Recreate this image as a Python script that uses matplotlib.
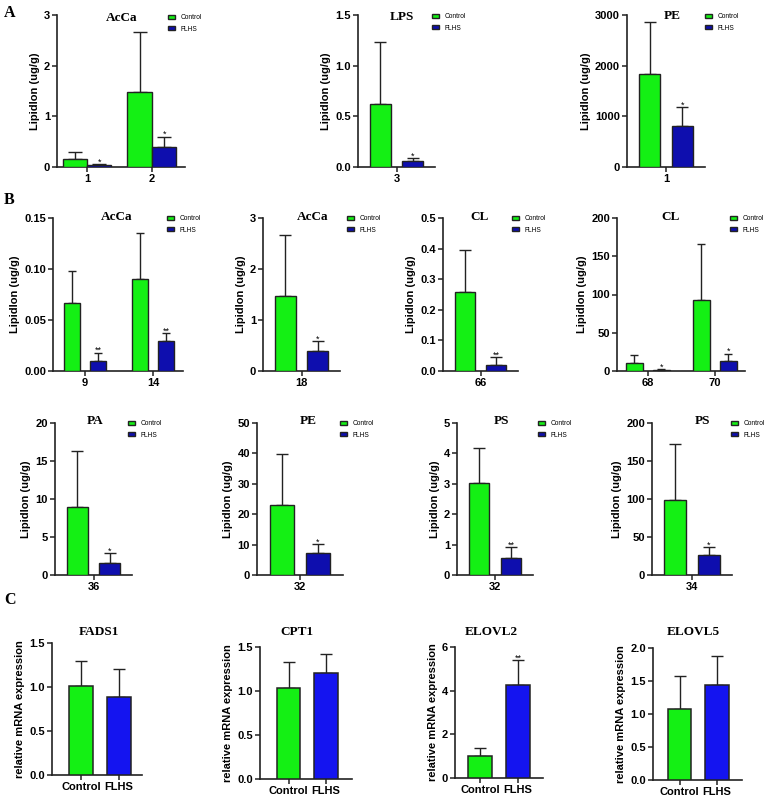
import matplotlib
matplotlib.use('Agg')
import matplotlib.pyplot as plt
import numpy as np

plt.rcParams['font.family'] = ['Liberation Sans', 'DejaVu Sans']
plt.rcParams['font.weight'] = 'bold'
plt.rcParams['axes.labelweight'] = 'bold'

W, H = 770, 802
GREEN = '#14F014'
NAVY = '#0E0EAE'
BLUE = '#1414F0'
EDGE = '#222222'

# ---------- data ----------
# A
a1_cats = ['1', '2']
a1_ctrl = [0.16, 1.49]
a1_ctrl_sd = [0.14, 1.17]
a1_flhs = [0.04, 0.40]
a1_flhs_sd = [0.025, 0.20]
a1_sig = ['*', '*']
a1_yticks = ['0', '1', '2', '3']

a2_cats = ['3']
a2_ctrl = [0.62]
a2_ctrl_sd = [0.61]
a2_flhs = [0.056]
a2_flhs_sd = [0.033]
a2_sig = ['*']
a2_yticks = ['0.0', '0.5', '1.0', '1.5']

a3_cats = ['1']
a3_ctrl = [1838]
a3_ctrl_sd = [1016]
a3_flhs = [815]
a3_flhs_sd = [360]
a3_sig = ['*']
a3_yticks = ['0', '1000', '2000', '3000']

# B, first row
b1_cats = ['9', '14']
b1_ctrl = [0.0665, 0.090]
b1_ctrl_sd = [0.032, 0.045]
b1_flhs = [0.010, 0.029]
b1_flhs_sd = [0.008, 0.0085]
b1_sig = ['**', '**']
b1_yticks = ['0.00', '0.05', '0.10', '0.15']

b2_cats = ['18']
b2_ctrl = [1.48]
b2_ctrl_sd = [1.18]
b2_flhs = [0.39]
b2_flhs_sd = [0.19]
b2_sig = ['*']
b2_yticks = ['0', '1', '2', '3']

b3_cats = ['66']
b3_ctrl = [0.257]
b3_ctrl_sd = [0.137]
b3_flhs = [0.019]
b3_flhs_sd = [0.026]
b3_sig = ['**']
b3_yticks = ['0.0', '0.1', '0.2', '0.3', '0.4', '0.5']

b4_cats = ['68', '70']
b4_ctrl = [10.9, 93]
b4_ctrl_sd = [9.6, 72.5]
b4_flhs = [1.7, 13.5]
b4_flhs_sd = [1.3, 9.2]
b4_sig = ['*', '*']
b4_yticks = ['0', '50', '100', '150', '200']

# B, second row
b5_cats = ['36']
b5_ctrl = [8.93]
b5_ctrl_sd = [7.35]
b5_flhs = [1.53]
b5_flhs_sd = [1.4]
b5_sig = ['*']
b5_yticks = ['0', '5', '10', '15', '20']

b6_cats = ['32']
b6_ctrl = [23.1]
b6_ctrl_sd = [16.8]
b6_flhs = [7.2]
b6_flhs_sd = [3.0]
b6_sig = ['*']
b6_yticks = ['0', '10', '20', '30', '40', '50']

b7_cats = ['32']
b7_ctrl = [3.04]
b7_ctrl_sd = [1.14]
b7_flhs = [0.56]
b7_flhs_sd = [0.37]
b7_sig = ['**']
b7_yticks = ['0', '1', '2', '3', '4', '5']

b8_cats = ['34']
b8_ctrl = [98.5]
b8_ctrl_sd = [73.5]
b8_flhs = [25.8]
b8_flhs_sd = [11.4]
b8_sig = ['*']
b8_yticks = ['0', '50', '100', '150', '200']

# C (mRNA)
groups = ['Control', 'FLHS']
c1_vals = [1.01, 0.89]
c1_sd = [0.29, 0.32]
c1_sig = ['', '']
c1_yticks = ['0.0', '0.5', '1.0', '1.5']

c2_vals = [1.03, 1.20]
c2_sd = [0.30, 0.22]
c2_sig = ['', '']
c2_yticks = ['0.0', '0.5', '1.0', '1.5']

c3_vals = [0.99, 4.27]
c3_sd = [0.38, 1.12]
c3_sig = ['', '**']
c3_yticks = ['0', '2', '4', '6']

c4_vals = [1.08, 1.44]
c4_sd = [0.50, 0.44]
c4_sig = ['', '']
c4_yticks = ['0.0', '0.5', '1.0', '1.5', '2.0']

fig = plt.figure(figsize=(7.7, 8.02), dpi=100)


def px_rect(l, t, r, b):
    return [l / W, 1 - b / H, (r - l) / W, (b - t) / H]


def base_axes(rect, yticks):
    ax = fig.add_axes(px_rect(*rect))
    for s in ['top', 'right']:
        ax.spines[s].set_visible(False)
    for s in ['left', 'bottom']:
        ax.spines[s].set_linewidth(1.2)
        ax.spines[s].set_color(EDGE)
    yt = [float(t) for t in yticks]
    ax.set_yticks(yt)
    ax.set_yticklabels(yticks)
    ax.set_ylim(0, yt[-1])
    ax.tick_params(direction='out', length=3.5, width=1.1, labelsize=8, pad=1.5, color=EDGE)
    return ax


def put_stars(ax, xs, ys, errs, sig):
    for xi, yi, e, s in zip(xs, ys, errs, sig):
        if s:
            ax.annotate(s, (xi, yi + e), xytext=(0, -0.4), textcoords='offset points',
                        ha='center', va='baseline', fontsize=6.5, fontweight='normal')


def fig_title(text, x, y):
    fig.text(x / W, 1 - y / H, text, family='Liberation Serif', weight='bold',
             fontsize=9.5, ha='center', va='center')


def lipid_panel(rect, title, tpos, cats, ctrl, ctrl_sd, flhs, flhs_sd, sig, yticks,
                lpos, width, off, xlim, cap):
    ax = base_axes(rect, yticks)
    x = np.arange(len(cats))
    z = np.zeros(len(cats))
    ax.bar(x - off, ctrl, width, color=GREEN, edgecolor=EDGE, linewidth=1, label='Control', zorder=3)
    ax.bar(x + off, flhs, width, color=NAVY, edgecolor=EDGE, linewidth=1, label='FLHS', zorder=3)
    ax.errorbar(x - off, ctrl, yerr=[z, ctrl_sd], fmt='none', ecolor=EDGE, elinewidth=1,
                capsize=cap, capthick=1, zorder=2)
    ax.errorbar(x + off, flhs, yerr=[z, flhs_sd], fmt='none', ecolor=EDGE, elinewidth=1,
                capsize=cap, capthick=1, zorder=2)
    put_stars(ax, x + off, flhs, flhs_sd, sig)
    ax.set_xticks(x)
    ax.set_xticklabels(cats)
    ax.set_xlim(*xlim)
    ax.set_ylabel('Lipidlon (ug/g)', fontsize=8, labelpad=3)
    fig_title(title, *tpos)
    ax.legend(loc='upper left', bbox_to_anchor=(lpos[0] / W, 1 - (lpos[1] - 4) / H),
              bbox_transform=fig.transFigure, frameon=False, borderpad=0, borderaxespad=0,
              handlelength=1.1, handleheight=0.6, handletextpad=0.8, labelspacing=0.7,
              prop={'size': 4.8, 'weight': 'normal'})
    return ax


def mrna_panel(rect, title, tpos, vals, sd, sig, yticks, xlim):
    ax = base_axes(rect, yticks)
    x = np.arange(len(groups))
    ax.bar(x, vals, 0.63, color=[GREEN, BLUE], edgecolor=EDGE, linewidth=1.1, zorder=3)
    ax.errorbar(x, vals, yerr=[np.zeros(len(x)), sd], fmt='none', ecolor=EDGE, elinewidth=1,
                capsize=4.5, capthick=1, zorder=2)
    put_stars(ax, x, vals, sd, sig)
    ax.set_xticks(x)
    ax.set_xticklabels(groups)
    ax.set_xlim(*xlim)
    ax.set_ylabel('relative mRNA expression', fontsize=8, labelpad=3)
    fig_title(title, *tpos)
    return ax


# row A
lipid_panel((57, 15, 185, 167), 'AcCa', (122, 18), a1_cats, a1_ctrl, a1_ctrl_sd, a1_flhs,
            a1_flhs_sd, a1_sig, a1_yticks, (168, 18), 0.37, 0.19, (-0.46, 1.51), 5)
lipid_panel((358, 15, 435, 167), 'LPS', (402, 17), a2_cats, a2_ctrl, a2_ctrl_sd, a2_flhs,
            a2_flhs_sd, a2_sig, a2_yticks, (432, 17), 0.27, 0.21, (-0.5, 0.5), 4)
lipid_panel((627, 15, 705, 167), 'PE', (672, 16), a3_cats, a3_ctrl, a3_ctrl_sd, a3_flhs,
            a3_flhs_sd, a3_sig, a3_yticks, (705, 17), 0.27, 0.21, (-0.5, 0.5), 4)

# row B (1)
lipid_panel((53, 218, 183, 371), 'AcCa', (117, 217), b1_cats, b1_ctrl, b1_ctrl_sd, b1_flhs,
            b1_flhs_sd, b1_sig, b1_yticks, (167, 219), 0.24, 0.19, (-0.47, 1.44), 3)
lipid_panel((263, 218, 340, 371), 'AcCa', (313, 217), b2_cats, b2_ctrl, b2_ctrl_sd, b2_flhs,
            b2_flhs_sd, b2_sig, b2_yticks, (347, 219), 0.27, 0.21, (-0.5, 0.5), 4)
lipid_panel((443, 218, 518, 371), 'CL', (480, 217), b3_cats, b3_ctrl, b3_ctrl_sd, b3_flhs,
            b3_flhs_sd, b3_sig, b3_yticks, (512, 219), 0.27, 0.21, (-0.5, 0.5), 4)
lipid_panel((617, 218, 745, 371), 'CL', (671, 217), b4_cats, b4_ctrl, b4_ctrl_sd, b4_flhs,
            b4_flhs_sd, b4_sig, b4_yticks, (730, 219), 0.25, 0.2, (-0.46, 1.45), 3)

# row B (2)
lipid_panel((55, 423, 132, 575), 'PA', (95, 421), b5_cats, b5_ctrl, b5_ctrl_sd, b5_flhs,
            b5_flhs_sd, b5_sig, b5_yticks, (128, 424), 0.27, 0.21, (-0.5, 0.5), 4)
lipid_panel((257, 423, 343, 575), 'PE', (308, 421), b6_cats, b6_ctrl, b6_ctrl_sd, b6_flhs,
            b6_flhs_sd, b6_sig, b6_yticks, (340, 424), 0.27, 0.21, (-0.5, 0.5), 4)
lipid_panel((457, 423, 533, 575), 'PS', (501, 421), b7_cats, b7_ctrl, b7_ctrl_sd, b7_flhs,
            b7_flhs_sd, b7_sig, b7_yticks, (538, 424), 0.27, 0.21, (-0.5, 0.5), 4)
lipid_panel((652, 423, 732, 575), 'PS', (702, 421), b8_cats, b8_ctrl, b8_ctrl_sd, b8_flhs,
            b8_flhs_sd, b8_sig, b8_yticks, (731, 424), 0.27, 0.21, (-0.5, 0.5), 4)

# row C
mrna_panel((52, 643, 142, 775), 'FADS1', (99, 632), c1_vals, c1_sd, c1_sig, c1_yticks, (-0.76, 1.6))
mrna_panel((260, 647, 352, 779), 'CPT1', (297, 632), c2_vals, c2_sd, c2_sig, c2_yticks, (-0.77, 1.7))
mrna_panel((455, 647, 543, 778), 'ELOVL2', (491, 632), c3_vals, c3_sd, c3_sig, c3_yticks, (-0.66, 1.66))
mrna_panel((653, 648, 742, 780), 'ELOVL5', (693, 632), c4_vals, c4_sd, c4_sig, c4_yticks, (-0.71, 1.67))

# panel letters
for letter, (lx, ly) in zip(['A', 'B', 'C'], [(10, 13), (9, 200), (10, 600)]):
    fig.text(lx / W, 1 - ly / H, letter, family='Liberation Serif', weight='bold',
             fontsize=11.5, ha='center', va='center')

fig.savefig('out.png', dpi=100)
